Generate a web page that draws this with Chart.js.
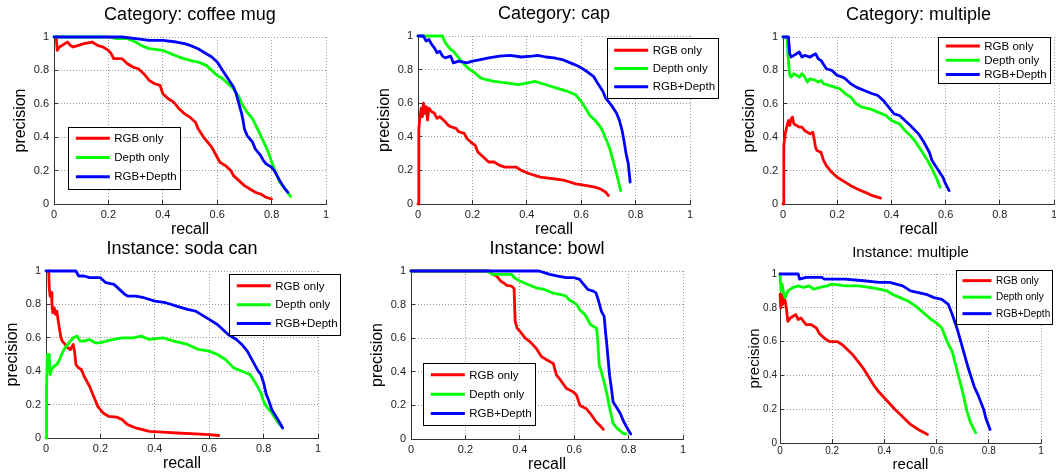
<!DOCTYPE html>
<html>
<head>
<meta charset="utf-8">
<script src="https://cdn.jsdelivr.net/npm/chart.js@4.4.1/dist/chart.umd.min.js"></script>
<style>
  html, body { margin: 0; padding: 0; background: #fff; }
  body { width: 1056px; height: 475px; position: relative; overflow: hidden; }
  canvas { position: absolute; }
</style>
</head>
<body>
<canvas id="p1"></canvas>
<canvas id="p2"></canvas>
<canvas id="p3"></canvas>
<canvas id="p4"></canvas>
<canvas id="p5"></canvas>
<canvas id="p6"></canvas>
<script>
// recall / precision pairs
const seriesNames = ['RGB only', 'Depth only', 'RGB+Depth'];
const seriesColors = ['#ff0000', '#00ff00', '#0000ff'];
const axisTicks = [0, 0.2, 0.4, 0.6, 0.8, 1];

const mugRgb = [[0.008,1],[0.012,0.92],[0.02,0.94],[0.03,0.95],[0.04,0.96],[0.05,0.97],[0.06,0.95],[0.07,0.94],[0.09,0.95],[0.11,0.96],[0.14,0.97],[0.16,0.95],[0.18,0.94],[0.2,0.92],[0.21,0.9],[0.22,0.87],[0.25,0.87],[0.27,0.84],[0.29,0.82],[0.31,0.81],[0.33,0.78],[0.35,0.74],[0.37,0.72],[0.39,0.71],[0.4,0.66],[0.42,0.63],[0.44,0.61],[0.46,0.57],[0.48,0.54],[0.5,0.52],[0.52,0.49],[0.53,0.45],[0.55,0.4],[0.57,0.36],[0.58,0.34],[0.6,0.28],[0.61,0.25],[0.63,0.23],[0.65,0.2],[0.66,0.17],[0.68,0.14],[0.7,0.11],[0.72,0.09],[0.74,0.07],[0.76,0.06],[0.78,0.04],[0.8,0.03]];
const mugDepth = [[0,1],[0.2,1],[0.23,0.99],[0.27,0.99],[0.3,0.97],[0.32,0.95],[0.35,0.93],[0.4,0.92],[0.43,0.9],[0.46,0.88],[0.5,0.86],[0.53,0.85],[0.56,0.83],[0.58,0.8],[0.6,0.77],[0.62,0.75],[0.64,0.72],[0.66,0.69],[0.68,0.64],[0.69,0.6],[0.71,0.55],[0.73,0.51],[0.745,0.46],[0.76,0.41],[0.78,0.34],[0.79,0.3],[0.805,0.23],[0.82,0.17],[0.83,0.13],[0.85,0.09],[0.87,0.045]];
const mugBoth = [[0,1],[0.25,1],[0.3,0.99],[0.35,0.98],[0.4,0.98],[0.45,0.97],[0.48,0.96],[0.5,0.95],[0.53,0.93],[0.56,0.9],[0.58,0.88],[0.6,0.85],[0.62,0.8],[0.64,0.75],[0.66,0.7],[0.67,0.66],[0.68,0.6],[0.69,0.54],[0.695,0.5],[0.7,0.45],[0.71,0.41],[0.73,0.37],[0.74,0.33],[0.76,0.29],[0.77,0.26],[0.78,0.24],[0.8,0.22],[0.81,0.2],[0.82,0.17],[0.83,0.14],[0.845,0.1],[0.86,0.07]];

const capRgb = [[0,0],[0.003,0.45],[0.008,0.53],[0.012,0.57],[0.016,0.52],[0.02,0.6],[0.025,0.54],[0.03,0.58],[0.035,0.5],[0.04,0.57],[0.05,0.55],[0.06,0.54],[0.07,0.51],[0.08,0.52],[0.1,0.49],[0.11,0.47],[0.12,0.46],[0.14,0.45],[0.15,0.43],[0.17,0.42],[0.18,0.39],[0.2,0.36],[0.21,0.35],[0.22,0.31],[0.24,0.28],[0.26,0.25],[0.28,0.25],[0.3,0.23],[0.32,0.22],[0.36,0.22],[0.38,0.2],[0.41,0.18],[0.45,0.16],[0.5,0.15],[0.54,0.14],[0.58,0.12],[0.62,0.11],[0.65,0.1],[0.67,0.09],[0.69,0.07],[0.7,0.05]];
const capDepth = [[0,1],[0.09,1],[0.1,0.96],[0.11,0.94],[0.12,0.92],[0.13,0.91],[0.15,0.87],[0.17,0.83],[0.19,0.8],[0.21,0.78],[0.23,0.75],[0.25,0.74],[0.28,0.73],[0.33,0.72],[0.37,0.71],[0.4,0.72],[0.43,0.73],[0.47,0.71],[0.51,0.69],[0.55,0.67],[0.58,0.65],[0.6,0.61],[0.62,0.56],[0.63,0.53],[0.65,0.5],[0.67,0.46],[0.68,0.43],[0.69,0.39],[0.705,0.33],[0.715,0.27],[0.73,0.18],[0.745,0.08]];
const capBoth = [[0,1],[0.02,1],[0.03,0.97],[0.04,0.98],[0.05,0.95],[0.06,0.93],[0.07,0.9],[0.08,0.91],[0.09,0.88],[0.1,0.87],[0.12,0.88],[0.13,0.84],[0.15,0.85],[0.18,0.84],[0.2,0.85],[0.23,0.86],[0.26,0.87],[0.3,0.88],[0.34,0.885],[0.38,0.875],[0.42,0.88],[0.44,0.885],[0.47,0.875],[0.5,0.87],[0.53,0.86],[0.56,0.84],[0.59,0.82],[0.62,0.79],[0.645,0.76],[0.66,0.72],[0.68,0.67],[0.69,0.63],[0.71,0.59],[0.73,0.54],[0.74,0.5],[0.75,0.44],[0.757,0.38],[0.765,0.3],[0.773,0.24],[0.78,0.13]];

const catMultRgb = [[0,0],[0.003,0.35],[0.008,0.42],[0.015,0.47],[0.02,0.5],[0.025,0.47],[0.03,0.51],[0.035,0.52],[0.04,0.48],[0.05,0.47],[0.06,0.46],[0.07,0.46],[0.08,0.44],[0.09,0.43],[0.1,0.42],[0.11,0.43],[0.115,0.39],[0.12,0.34],[0.125,0.32],[0.14,0.31],[0.15,0.26],[0.16,0.23],[0.18,0.19],[0.2,0.16],[0.22,0.14],[0.25,0.11],[0.28,0.085],[0.31,0.065],[0.33,0.05],[0.36,0.035]];
const catMultDepth = [[0,1],[0.015,1],[0.018,0.9],[0.022,0.82],[0.025,0.77],[0.03,0.76],[0.04,0.78],[0.05,0.77],[0.06,0.76],[0.07,0.78],[0.08,0.76],[0.09,0.73],[0.1,0.75],[0.12,0.74],[0.13,0.73],[0.14,0.74],[0.15,0.72],[0.17,0.71],[0.19,0.7],[0.21,0.69],[0.23,0.66],[0.25,0.64],[0.27,0.6],[0.29,0.58],[0.32,0.57],[0.35,0.55],[0.38,0.53],[0.4,0.5],[0.43,0.48],[0.45,0.44],[0.47,0.41],[0.49,0.37],[0.51,0.32],[0.53,0.27],[0.55,0.21],[0.565,0.16],[0.58,0.1]];
const catMultBoth = [[0,1],[0.02,1],[0.025,0.9],[0.03,0.88],[0.04,0.89],[0.05,0.9],[0.06,0.91],[0.07,0.88],[0.08,0.89],[0.1,0.88],[0.12,0.9],[0.13,0.87],[0.14,0.86],[0.16,0.81],[0.18,0.8],[0.2,0.77],[0.22,0.76],[0.23,0.75],[0.25,0.72],[0.27,0.7],[0.3,0.68],[0.33,0.66],[0.35,0.65],[0.37,0.62],[0.39,0.58],[0.41,0.54],[0.43,0.53],[0.45,0.5],[0.47,0.47],[0.5,0.42],[0.52,0.37],[0.54,0.31],[0.55,0.26],[0.57,0.21],[0.59,0.16],[0.6,0.12],[0.613,0.08]];

const sodaRgb = [[0.01,1],[0.012,0.9],[0.015,0.85],[0.02,0.87],[0.022,0.8],[0.025,0.75],[0.03,0.78],[0.035,0.74],[0.04,0.76],[0.045,0.7],[0.05,0.65],[0.055,0.6],[0.06,0.58],[0.07,0.56],[0.08,0.54],[0.09,0.53],[0.1,0.56],[0.105,0.52],[0.11,0.44],[0.12,0.42],[0.13,0.41],[0.14,0.37],[0.15,0.34],[0.16,0.31],[0.17,0.27],[0.18,0.23],[0.19,0.19],[0.21,0.15],[0.23,0.13],[0.26,0.125],[0.28,0.11],[0.3,0.08],[0.33,0.06],[0.38,0.04],[0.43,0.035],[0.48,0.03],[0.55,0.025],[0.6,0.02],[0.635,0.015]];
const sodaDepth = [[0,0],[0.002,0.3],[0.005,0.5],[0.008,0.42],[0.012,0.5],[0.015,0.38],[0.02,0.41],[0.03,0.43],[0.04,0.44],[0.05,0.47],[0.06,0.51],[0.07,0.54],[0.08,0.56],[0.1,0.6],[0.115,0.61],[0.125,0.58],[0.14,0.58],[0.16,0.59],[0.18,0.57],[0.2,0.57],[0.22,0.58],[0.25,0.59],[0.28,0.6],[0.32,0.6],[0.35,0.61],[0.38,0.59],[0.43,0.6],[0.47,0.58],[0.52,0.56],[0.56,0.53],[0.6,0.52],[0.63,0.5],[0.66,0.47],[0.69,0.42],[0.72,0.4],[0.75,0.38],[0.77,0.33],[0.79,0.27],[0.8,0.22],[0.81,0.19],[0.83,0.15],[0.85,0.1],[0.865,0.07]];
const sodaBoth = [[0,1],[0.11,1],[0.12,0.97],[0.14,0.97],[0.16,0.96],[0.2,0.96],[0.22,0.93],[0.25,0.92],[0.27,0.89],[0.29,0.86],[0.3,0.85],[0.33,0.85],[0.36,0.84],[0.4,0.82],[0.44,0.81],[0.48,0.79],[0.52,0.77],[0.55,0.76],[0.58,0.73],[0.6,0.71],[0.63,0.68],[0.65,0.65],[0.67,0.62],[0.7,0.59],[0.72,0.56],[0.74,0.52],[0.75,0.49],[0.77,0.43],[0.78,0.4],[0.79,0.38],[0.8,0.33],[0.81,0.26],[0.82,0.22],[0.83,0.17],[0.845,0.13],[0.86,0.09],[0.87,0.06]];

const bowlRgb = [[0,1],[0.29,1],[0.3,0.98],[0.315,0.97],[0.33,0.94],[0.34,0.93],[0.352,0.915],[0.37,0.91],[0.379,0.895],[0.383,0.7],[0.39,0.66],[0.401,0.64],[0.42,0.6],[0.438,0.578],[0.46,0.54],[0.48,0.49],[0.5,0.47],[0.523,0.45],[0.535,0.38],[0.55,0.35],[0.572,0.3],[0.597,0.28],[0.609,0.26],[0.621,0.2],[0.645,0.18],[0.66,0.15],[0.682,0.1],[0.695,0.08],[0.707,0.057]];
const bowlDepth = [[0,1],[0.28,1],[0.3,0.98],[0.34,0.98],[0.37,0.98],[0.38,0.96],[0.4,0.94],[0.43,0.92],[0.46,0.9],[0.49,0.89],[0.52,0.87],[0.55,0.86],[0.57,0.85],[0.58,0.83],[0.6,0.81],[0.61,0.8],[0.62,0.77],[0.64,0.74],[0.65,0.71],[0.66,0.68],[0.682,0.66],[0.686,0.6],[0.692,0.44],[0.7,0.4],[0.713,0.32],[0.72,0.27],[0.731,0.18],[0.743,0.093],[0.76,0.06],[0.78,0.034],[0.79,0.03]];
const bowlBoth = [[0,1],[0.47,1],[0.49,0.99],[0.51,0.98],[0.54,0.97],[0.57,0.96],[0.6,0.96],[0.62,0.95],[0.63,0.93],[0.64,0.91],[0.65,0.89],[0.67,0.88],[0.68,0.87],[0.69,0.82],[0.7,0.76],[0.71,0.73],[0.715,0.64],[0.72,0.56],[0.725,0.47],[0.73,0.38],[0.737,0.3],[0.743,0.22],[0.755,0.19],[0.77,0.15],[0.78,0.11],[0.79,0.08],[0.8,0.05],[0.808,0.03]];

const instMultRgb = [[0,0.88],[0.003,0.8],[0.006,0.88],[0.01,0.82],[0.015,0.86],[0.02,0.84],[0.025,0.79],[0.03,0.72],[0.04,0.74],[0.05,0.75],[0.06,0.76],[0.07,0.73],[0.08,0.74],[0.09,0.72],[0.1,0.7],[0.12,0.7],[0.14,0.68],[0.15,0.65],[0.17,0.62],[0.19,0.6],[0.22,0.6],[0.24,0.58],[0.26,0.55],[0.28,0.52],[0.3,0.48],[0.32,0.44],[0.34,0.39],[0.36,0.34],[0.38,0.3],[0.41,0.25],[0.44,0.2],[0.46,0.17],[0.5,0.11],[0.53,0.08],[0.565,0.05]];
const instMultDepth = [[0,1],[0.004,0.9],[0.008,0.94],[0.015,0.88],[0.02,0.86],[0.03,0.9],[0.05,0.92],[0.07,0.93],[0.09,0.92],[0.11,0.93],[0.13,0.91],[0.15,0.92],[0.18,0.93],[0.2,0.94],[0.25,0.93],[0.3,0.93],[0.35,0.92],[0.38,0.91],[0.41,0.9],[0.43,0.88],[0.46,0.86],[0.49,0.84],[0.52,0.81],[0.55,0.77],[0.58,0.73],[0.6,0.71],[0.62,0.68],[0.64,0.6],[0.66,0.54],[0.68,0.42],[0.7,0.3],[0.716,0.19],[0.73,0.12],[0.75,0.06]];
const instMultBoth = [[0,1],[0.07,1],[0.075,0.97],[0.1,0.98],[0.16,0.98],[0.17,0.97],[0.25,0.97],[0.32,0.96],[0.38,0.95],[0.42,0.95],[0.47,0.93],[0.5,0.9],[0.53,0.89],[0.56,0.88],[0.59,0.86],[0.62,0.85],[0.645,0.82],[0.66,0.76],[0.68,0.67],[0.7,0.56],[0.72,0.45],[0.745,0.33],[0.76,0.28],[0.78,0.2],[0.79,0.14],[0.805,0.08]];

Chart.defaults.font.family = "'Liberation Sans', Arial, Helvetica, sans-serif";

// plot box = [left, top, right, bottom] in page pixels
const panels = [
  { id: 'p1', title: 'Category: coffee mug', series: [mugRgb, mugDepth, mugBoth], box: [54, 37, 326, 204], legend: { x: 14.3, y: 89.7, w: 111.7, h: 61.6, row: 19.2 } },
  { id: 'p2', title: 'Category: cap', series: [capRgb, capDepth, capBoth], box: [418, 36, 690, 204], legend: { x: 188.7, y: 2.3, w: 110.6, h: 60.4, row: 18.3 }, rightPad: 32 },
  { id: 'p3', title: 'Category: multiple', series: [catMultRgb, catMultDepth, catMultBoth], box: [783, 37, 1054, 204], legend: { x: 155.3, y: 0.3, w: 111.7, h: 46, row: 14.3 } },
  { id: 'p4', title: 'Instance: soda can', series: [sodaRgb, sodaDepth, sodaBoth], box: [46, 271, 318, 438], legend: { x: 183.3, y: 3.3, w: 111.4, h: 60.7, row: 18.8 }, rightPad: 26 },
  { id: 'p5', title: 'Instance: bowl', series: [bowlRgb, bowlDepth, bowlBoth], box: [411, 271, 683, 439], legend: { x: 12.3, y: 92.3, w: 111.7, h: 61.7, row: 19.3 } },
  { id: 'p6', title: 'Instance: multiple', series: [instMultRgb, instMultDepth, instMultBoth], box: [780, 274, 1041, 443], legend: { x: 176, y: -4, w: 95.7, h: 54.3, row: 16.5 }, small: true }
];

const boxLegend = {
  id: 'boxLegend',
  afterDraw(chart, args, o) {
    const { ctx, chartArea } = chart;
    const x = chartArea.left + o.x;
    const y = chartArea.top + o.y;
    ctx.save();
    ctx.fillStyle = '#fff';
    ctx.fillRect(x, y, o.w, o.h);
    ctx.strokeStyle = '#000';
    ctx.lineWidth = 1;
    ctx.strokeRect(Math.round(x) + 0.5, Math.round(y) + 0.5, Math.round(o.w), Math.round(o.h));
    ctx.font = o.fontSize + "px 'Liberation Sans', Arial, sans-serif";
    ctx.textBaseline = 'middle';
    ctx.textAlign = 'left';
    chart.data.datasets.forEach((ds, i) => {
      const cy = y + o.h / 2 + (i - 1) * o.row;
      ctx.strokeStyle = ds.borderColor;
      ctx.lineWidth = 3;
      ctx.beginPath();
      ctx.moveTo(x + o.l0, cy);
      ctx.lineTo(x + o.l1, cy);
      ctx.stroke();
      ctx.fillStyle = '#000';
      ctx.fillText(ds.label, x + o.tx, cy + 0.5);
    });
    ctx.restore();
  }
};

const Y_W = 46;
const X_H = 38;
const TOP_H = 36;

panels.forEach((p) => {
  const [L, T, R, B] = p.box;
  const rightPad = p.rightPad || 12;
  const s = p.small;
  const canvas = document.getElementById(p.id);
  canvas.width = (R - L) + Y_W + rightPad;
  canvas.height = (B - T) + TOP_H + X_H;
  canvas.style.left = (L - Y_W) + 'px';
  canvas.style.top = (T - TOP_H) + 'px';

  const tickFont = { size: s ? 10 : 11 };
  const labelFont = { size: s ? 15 : 16 };

  const axisBase = () => ({
    type: 'linear',
    min: 0,
    max: 1,
    afterBuildTicks: (scale) => { scale.ticks = axisTicks.map((v) => ({ value: v })); },
    grid: { color: '#9a9a9a', lineWidth: 1, drawTicks: true, tickLength: -4, tickColor: '#333', tickWidth: 1 },
    border: { display: true, color: '#333', width: 1, dash: [1, 2] }
  });

  const fmt = (v) => String(Math.round(v * 10) / 10);

  const xAxis = axisBase();
  xAxis.position = 'bottom';
  xAxis.afterFit = (scale) => { scale.height = X_H; };
  xAxis.ticks = { font: tickFont, color: '#222', padding: s ? 6 : 8, maxRotation: 0, autoSkip: false, callback: fmt };
  xAxis.title = { display: true, text: 'recall', color: '#000', font: labelFont, padding: { top: 0, bottom: s ? 7 : 2.4 } };

  const yAxis = axisBase();
  yAxis.position = 'left';
  yAxis.afterFit = (scale) => { scale.width = Y_W; };
  yAxis.ticks = { font: tickFont, color: '#222', padding: s ? 7 : 9, autoSkip: false, callback: fmt };
  yAxis.title = { display: true, text: 'precision', color: '#000', font: labelFont, padding: { top: s ? 12 : 3.4, bottom: 0 } };

  new Chart(canvas, {
    type: 'scatter',
    data: {
      datasets: p.series.map((pts, i) => ({
        label: seriesNames[i],
        data: pts.map(([x, y]) => ({ x, y })),
        borderColor: seriesColors[i],
        backgroundColor: seriesColors[i],
        borderWidth: 2.8,
        showLine: true,
        pointRadius: 0,
        tension: 0,
        borderJoinStyle: 'round',
        borderCapStyle: 'round',
        clip: 6,
        order: 2 - i
      }))
    },
    options: {
      responsive: false,
      animation: false,
      events: [],
      layout: { padding: { left: 0, top: 0, right: rightPad, bottom: 0 } },
      scales: { x: xAxis, y: yAxis },
      plugins: {
        legend: { display: false },
        tooltip: { enabled: false },
        title: {
          display: true,
          text: p.title,
          fullSize: false,
          color: '#000',
          font: { size: s ? 15 : 18, weight: 'normal' },
          padding: s ? { top: 6, bottom: 12 } : { top: 3.2, bottom: 11.2 }
        },
        boxLegend: Object.assign({
          fontSize: s ? 10 : 11.5,
          l0: s ? 6.5 : 7.5,
          l1: s ? 35.5 : 41.5,
          tx: s ? 40 : 46
        }, p.legend)
      }
    },
    plugins: [boxLegend]
  });
});
</script>
</body>
</html>
